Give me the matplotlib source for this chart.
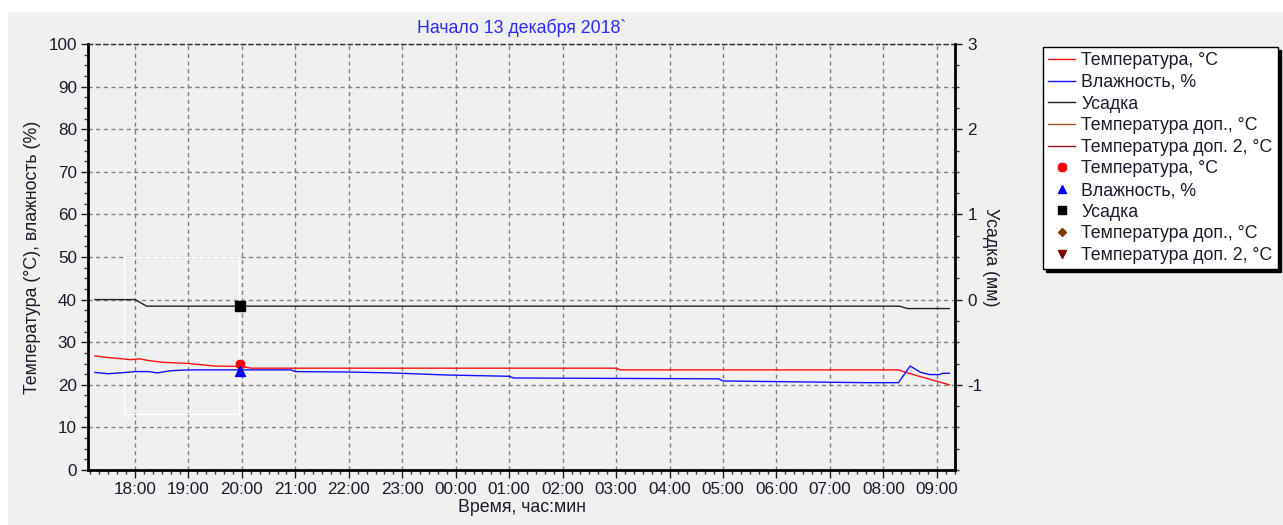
import matplotlib.pyplot as plt
from matplotlib.patches import Rectangle
from matplotlib.ticker import MultipleLocator

plt.rcParams['font.family'] = ['Liberation Sans', 'DejaVu Sans']
plt.rcParams['axes.unicode_minus'] = False

# series (time of day, value)
temp_times = ["17:15", "17:25", "17:40", "17:55", "18:05", "18:15", "18:30", "19:00",
              "19:15", "19:30", "20:00", "20:10", "03:00", "03:05", "08:17", "08:27", "09:14"]
temp_vals = [26.8, 26.5, 26.2, 25.9, 26.1, 25.7, 25.3, 25.0,
             24.7, 24.4, 24.3, 23.9, 23.9, 23.5, 23.5, 22.8, 20.0]

hum_times = ["17:15", "17:30", "17:50", "18:00", "18:15", "18:25", "18:40", "19:00",
             "20:55", "21:00", "22:00", "22:45", "23:50", "01:00", "01:05", "04:55",
             "05:00", "07:40", "08:17", "08:30", "08:42", "08:52", "09:03", "09:07", "09:14"]
hum_vals = [22.9, 22.6, 22.9, 23.1, 23.1, 22.8, 23.3, 23.5,
            23.5, 23.1, 23.0, 22.8, 22.3, 22.0, 21.6, 21.4,
            20.9, 20.5, 20.5, 24.4, 22.9, 22.4, 22.4, 22.7, 22.7]

shrink_times = ["17:15", "18:00", "18:13", "08:18", "08:27", "09:14"]
shrink_vals = [0.0, 0.0, -0.077, -0.077, -0.105, -0.105]

# current point markers
mark_time = "19:58"
mark_temp = 25.0
mark_hum = 23.3
mark_shrink = -0.07

hour_labels = ["18:00", "19:00", "20:00", "21:00", "22:00", "23:00", "00:00", "01:00",
               "02:00", "03:00", "04:00", "05:00", "06:00", "07:00", "08:00", "09:00"]


def to_x(t):
    h, m = map(int, t.split(":"))
    v = h + m / 60
    if v < 12:
        v += 24
    return v - 17


bg = '#f0f0f0'
txt = '#1a1a2a'
fs_tick = 12.3
fs_text = 12.8
fig = plt.figure(figsize=(12.83, 5.25), dpi=100, facecolor='white')
fig.patches.append(Rectangle((8 / 1283, 0), 1, 1 - 12 / 525, transform=fig.transFigure,
                             facecolor=bg, edgecolor='none', zorder=-10))

ax = fig.add_axes([88 / 1283, 55 / 525, 867 / 1283, 426 / 525])
ax.set_facecolor(bg)
ax2 = ax.twinx()

ax.set_xlim(0.12, 16.34)
ax.set_ylim(0, 100)
ax2.set_ylim(-2, 3)

ax.set_xticks(range(1, 17))
ax.set_xticklabels(hour_labels)
ax.xaxis.set_minor_locator(MultipleLocator(1 / 6))
ax.yaxis.set_major_locator(MultipleLocator(10))
ax.yaxis.set_minor_locator(MultipleLocator(2.5))
ax2.set_yticks([-1, 0, 1, 2, 3])
ax2.yaxis.set_minor_locator(MultipleLocator(0.25))

ax.grid(True, which='major', color='#808080', linestyle=(0, (3, 2.5)), linewidth=1)
ax.set_axisbelow(True)

for a in (ax, ax2):
    for s in a.spines.values():
        s.set_visible(False)
ax.spines['left'].set_visible(True)
ax.spines['bottom'].set_visible(True)
ax2.spines['right'].set_visible(True)
for s in (ax.spines['left'], ax.spines['bottom'], ax2.spines['right']):
    s.set_linewidth(2)
    s.set_color('black')
ax.spines['top'].set_visible(True)
ax.spines['top'].set_linestyle((0, (3, 2.5)))
ax.spines['top'].set_color('#303030')
ax.spines['top'].set_linewidth(1)

ax.tick_params(which='major', length=5, width=1, labelsize=fs_tick, colors=txt, pad=3)
ax.tick_params(which='minor', length=3, width=1, colors='#333333')
ax.tick_params(axis='x', which='major', length=6)
ax2.tick_params(which='major', length=5, width=1, labelsize=fs_tick, colors=txt, pad=4)
ax2.tick_params(which='minor', length=3, width=1, colors='#333333')

# stray white selection box seen in the picture
ax.add_patch(Rectangle((0.794, 13.2), 2.15, 36.7, fill=False, edgecolor='white', linewidth=1, zorder=1))

l_temp, = ax.plot([to_x(t) for t in temp_times], temp_vals, color='#ff1010', lw=1, zorder=3)
l_hum, = ax.plot([to_x(t) for t in hum_times], hum_vals, color='#1010ff', lw=1, zorder=3)
l_shr, = ax2.plot([to_x(t) for t in shrink_times], shrink_vals, color='#202020', lw=1, zorder=3)
l_t1, = ax.plot([], [], color='#a0522d', lw=1)
l_t2, = ax.plot([], [], color='#8b1a1a', lw=1)

m_temp, = ax.plot([to_x(mark_time)], [mark_temp], ls='none', marker='8', ms=7, color='#ff0000', zorder=4)
m_hum, = ax.plot([to_x(mark_time)], [mark_hum], ls='none', marker='^', ms=7, color='#0000ff', zorder=4)
m_shr, = ax2.plot([to_x(mark_time)], [mark_shrink], ls='none', marker='s', ms=7, color='black', zorder=4)
m_t1, = ax.plot([], [], ls='none', marker='D', ms=5, color='#7a3c00')
m_t2, = ax.plot([], [], ls='none', marker='v', ms=6, color='#7a0000')

ax.set_title("Начало 13 декабря 2018`", color='#2a2aff', fontsize=fs_text, pad=8)
ax.set_xlabel("Время, час:мин", fontsize=fs_text, color=txt, labelpad=1)
ax.set_ylabel("Температура (°C), влажность (%)", fontsize=fs_text, color=txt, labelpad=5)
ax2.set_ylabel("Усадка (мм)", fontsize=fs_text, color=txt, rotation=270, labelpad=12)

handles = [l_temp, l_hum, l_shr, l_t1, l_t2, m_temp, m_hum, m_shr, m_t1, m_t2]
names = ["Температура, °C", "Влажность, %", "Усадка", "Температура доп., °C",
         "Температура доп. 2, °C", "Температура, °C", "Влажность, %", "Усадка",
         "Температура доп., °C", "Температура доп. 2, °C"]
leg = fig.legend(handles, names, loc='upper left', bbox_to_anchor=(1043 / 1283, 1 - 47 / 525),
                 fontsize=fs_text, frameon=True, fancybox=False, edgecolor='black', facecolor='white',
                 framealpha=1, shadow={'color': 'black', 'alpha': 1}, labelspacing=0.26,
                 handlelength=1.5, handletextpad=0.35, borderpad=0.3, borderaxespad=0,
                 markerscale=0.9)
for t in leg.get_texts():
    t.set_color(txt)

fig.savefig('out.png', dpi=100, facecolor=fig.get_facecolor())
